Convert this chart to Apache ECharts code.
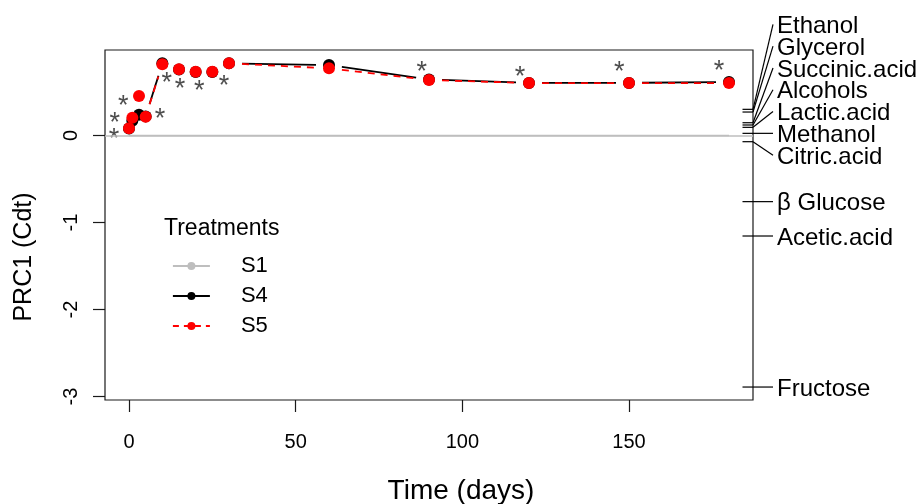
<!DOCTYPE html>
<html>
<head>
<meta charset="utf-8">
<script src="https://cdn.jsdelivr.net/npm/echarts@6/dist/echarts.min.js"></script>
<style>html,body{margin:0;padding:0;background:#fff;}#c{width:920px;height:504px;}</style>
</head>
<body>
<div id="c"></div>
<script>
// ---- data ----
const times = [0, 1, 3, 5, 10, 15, 20, 25, 30, 60, 90, 120, 150, 180];
const s1Values = [0, 0, 0, 0, 0, 0, 0, 0, 0, 0, 0, 0, 0, 0];
const s4Values = [0.08, 0.17, 0.24, 0.22, 0.83, 0.76, 0.73, 0.73, 0.83, 0.81, 0.645, 0.605, 0.605, 0.615];
const s5Values = [0.083, 0.205, 0.454, 0.216, 0.82, 0.761, 0.733, 0.733, 0.83, 0.772, 0.638, 0.603, 0.603, 0.603];
const starTimes = [-4.5, -4.3, -1.7, 9.3, 11.3, 15.3, 21.1, 28.5, 87.8, 117.3, 147.1, 177.0];
const starValues = [0.017, 0.209, 0.40, 0.247, 0.669, 0.592, 0.58, 0.63, 0.79, 0.733, 0.79, 0.80];
const speciesNames = ['Ethanol', 'Glycerol', 'Succinic.acid', 'Alcohols', 'Lactic.acid', 'Methanol', 'Citric.acid', 'β Glucose', 'Acetic.acid', 'Fructose'];
const speciesScores = [0.301, 0.27, 0.147, 0.121, 0.094, 0.025, -0.071, -0.76, -1.155, -2.891];
const xTicks = [0, 50, 100, 150];
const yTicks = [-3, -2, -1, 0];
const xLimits = [-7.2, 187.2];
const yLimits = [-3.04, 0.983];

const FONT = '"Liberation Sans", Arial, sans-serif';
const RED = '#ff0000', BLACK = '#000000', GRAY = '#bebebe';

function pairs(vals) { return times.map((t, i) => [t, vals[i]]); }

function gappedLine(name, vals, color, dash) {
  const segs = [];
  for (let i = 0; i < times.length - 1; i++) segs.push([times[i], vals[i], times[i + 1], vals[i + 1]]);
  return {
    type: 'custom', name: name, data: segs, encode: { x: [0, 2], y: [1, 3] }, silent: true,
    renderItem: function (params, api) {
      const a = api.coord([api.value(0), api.value(1)]);
      const b = api.coord([api.value(2), api.value(3)]);
      const dx = b[0] - a[0], dy = b[1] - a[1];
      const L = Math.hypot(dx, dy);
      const gap = 13;
      if (L <= 2 * gap) return null;
      const ux = dx / L, uy = dy / L;
      return {
        type: 'line',
        shape: { x1: a[0] + ux * gap, y1: a[1] + uy * gap, x2: b[0] - ux * gap, y2: b[1] - uy * gap },
        style: { stroke: color, lineWidth: 1.8, lineDash: dash }
      };
    }
  };
}

function pointSeries(name, vals, color) {
  return {
    type: 'line', name: name, data: pairs(vals), symbol: 'circle', symbolSize: 12, showSymbol: true,
    itemStyle: { color: color }, lineStyle: { opacity: 0, color: color }, silent: true
  };
}

const speciesSeries = {
  type: 'custom', name: 'species', silent: true, clip: false,
  data: speciesScores.map((s, i) => [0, s, i]),
  encode: { x: 0, y: 1 },
  renderItem: function (params, api) {
    const idx = api.value(2);
    const xr = params.coordSys.x + params.coordSys.width;
    // linestack (vegan) in pixel space
    const py = speciesScores.map(s => api.coord([0, s])[1]);
    const order = py.map((v, i) => i).sort((a, b) => py[b] - py[a]);
    const n = order.length;
    const ht = 21.8;
    const pos = new Array(speciesScores.length);
    const mid = Math.floor((n + 1) / 2) - 1;
    pos[order[mid]] = py[order[mid]];
    for (let k = mid + 1; k < n; k++) pos[order[k]] = Math.min(py[order[k]], pos[order[k - 1]] - ht);
    for (let k = mid - 1; k >= 0; k--) pos[order[k]] = Math.max(py[order[k]], pos[order[k + 1]] + ht);
    const y = py[idx], p = pos[idx];
    return {
      type: 'group',
      children: [
        { type: 'line', shape: { x1: xr - 10.5, y1: y, x2: xr, y2: y }, style: { stroke: '#000', lineWidth: 1.2 } },
        { type: 'line', shape: { x1: xr, y1: y, x2: xr + 20, y2: p }, style: { stroke: '#000', lineWidth: 1.2 } },
        { type: 'text', x: xr + 24, y: p + 2, style: { text: speciesNames[idx], fill: '#000', font: '24px ' + FONT, verticalAlign: 'middle', align: 'left' } }
      ]
    };
  }
};

const chart = echarts.init(document.getElementById('c'), null, { renderer: 'canvas' });
chart.setOption({
  animation: false,
  backgroundColor: '#ffffff',
  textStyle: { fontFamily: FONT },
  title: {
    text: 'Treatments', left: 164, top: 217, padding: 0,
    textStyle: { fontSize: 23, fontWeight: 'normal', color: '#000', fontFamily: FONT }
  },
  legend: {
    orient: 'vertical', left: 172, top: 255, padding: 0,
    itemWidth: 37, itemHeight: 10, itemGap: 8,
    textStyle: { fontSize: 22, color: '#000', fontFamily: FONT, padding: [0, 0, 0, 26] },
    data: [
      { name: 'S1', lineStyle: { opacity: 1, color: GRAY, width: 1.8, type: 'solid' }, itemStyle: { color: GRAY } },
      { name: 'S4', lineStyle: { opacity: 1, color: BLACK, width: 1.8, type: 'solid' }, itemStyle: { color: BLACK } },
      { name: 'S5', lineStyle: { opacity: 1, color: RED, width: 1.8, type: [6, 5] }, itemStyle: { color: RED } }
    ],
    selectedMode: false
  },
  grid: { left: 105, right: 167, top: 50, bottom: 104, show: true, borderColor: '#1a1a1a', borderWidth: 1.2, containLabel: false, outerBoundsMode: 'none' },
  xAxis: {
    type: 'value', min: xLimits[0], max: xLimits[1],
    name: 'Time (days)', nameLocation: 'middle', nameGap: 77,
    nameTextStyle: { fontSize: 28, color: '#000', fontFamily: FONT, padding: [0, 0, 0, 64] },
    axisLine: { show: false, onZero: false },
    axisTick: { show: true, customValues: xTicks, length: 12, lineStyle: { color: '#1a1a1a', width: 1.2 } },
    axisLabel: { customValues: xTicks, fontSize: 20, color: '#000', margin: 32 },
    splitLine: { show: false }
  },
  yAxis: {
    type: 'value', min: yLimits[0], max: yLimits[1],
    name: 'PRC1 (Cdt)', nameLocation: 'middle', nameGap: 68,
    nameTextStyle: { fontSize: 25, color: '#000', fontFamily: FONT, padding: [0, 64, 0, 0] },
    axisLine: { show: false, onZero: false },
    axisTick: { show: true, customValues: yTicks, length: 12, lineStyle: { color: '#1a1a1a', width: 1.2 } },
    axisLabel: { customValues: yTicks, fontSize: 20, color: '#000', margin: 24, rotate: 90 },
    splitLine: { show: false }
  },
  series: [
    {
      type: 'line', name: 'S1', data: pairs(s1Values), showSymbol: false, symbol: 'circle',
      itemStyle: { color: GRAY }, lineStyle: { color: GRAY, width: 1.5 }, silent: true,
      markLine: { silent: true, symbol: 'none', label: { show: false }, data: [{ yAxis: 0 }], lineStyle: { color: GRAY, width: 1.5, type: 'solid' }, animation: false }
    },
    gappedLine('S4 line', s4Values, BLACK, null),
    pointSeries('S4', s4Values, BLACK),
    gappedLine('S5 line', s5Values, RED, [7, 6]),
    pointSeries('S5', s5Values, RED),
    {
      type: 'scatter', name: 'stars', data: starTimes.map((t, i) => [t, starValues[i]]),
      symbol: 'circle', symbolSize: 1, itemStyle: { color: 'rgba(0,0,0,0)' }, silent: true,
      label: { show: true, position: 'inside', formatter: '*', fontSize: 27, color: '#222', offset: [0, 6], fontFamily: FONT }
    },
    speciesSeries
  ]
});
</script>
</body>
</html>
